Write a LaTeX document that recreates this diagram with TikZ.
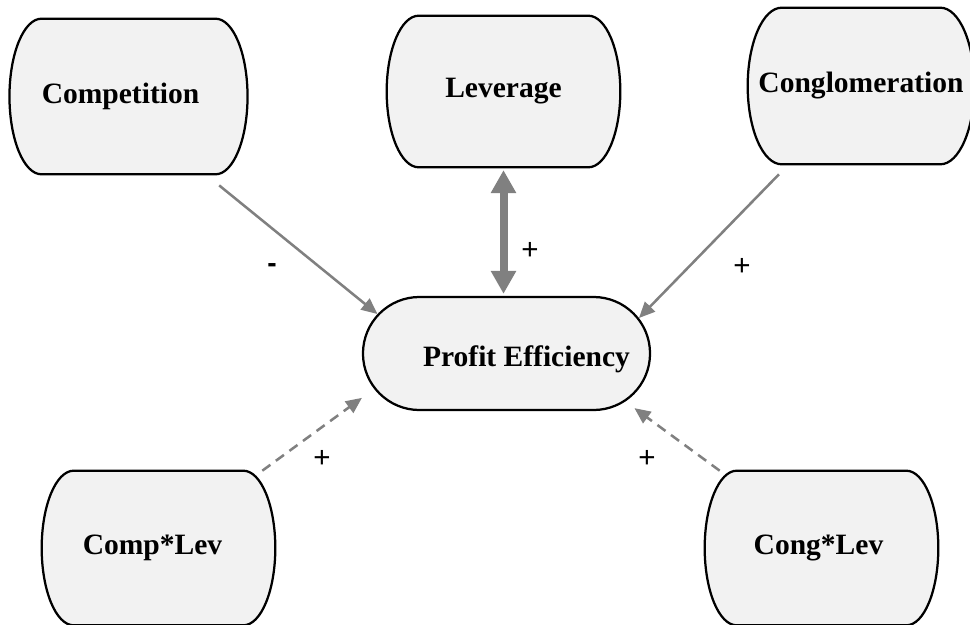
\documentclass[tikz,border=0pt]{standalone}
\usepackage{fontspec}
\setmainfont{Liberation Serif}
\newfontfamily\signfont{Liberation Sans}
\usetikzlibrary{shapes.misc,arrows.meta,backgrounds,calc}
\definecolor{boxfill}{HTML}{F2F2F2}
\definecolor{linkgray}{HTML}{808080}

\begin{document}
\begin{tikzpicture}[x=0.025cm,y=-0.025cm,
    factor/.style={rectangle,minimum width=4.225cm,minimum height=3.85cm,inner sep=0pt,
        font=\fontsize{21}{25}\selectfont\bfseries},
    outline/.style={draw=black,line width=1.6pt,fill=boxfill},
    link/.style={draw=linkgray,line width=1.8pt,-{Triangle[length=0.4cm,width=0.35cm]}},
    dashlink/.style={link,dash pattern=on 0.25cm off 0.17cm},
    bothway/.style={draw=linkgray,line width=5.7pt,
        {Triangle[length=0.575cm,width=0.6cm]}-{Triangle[length=0.575cm,width=0.6cm]}},
    sign/.style={inner sep=0pt,font=\signfont\fontsize{21}{24}\selectfont}]
            \useasboundingbox (0,0) rectangle (970,624);
            \node[factor,minimum height=3.875cm] (comp) at (128.5,96.5) {Competition\hspace*{0.4cm}};
            \node[factor,minimum height=3.775cm] (lev) at (503.5,91.5) {Leverage};
            \node[factor,minimum width=3.95cm,minimum height=3.9cm] (cong) at (861,86) {\makebox[3.95cm]{Conglomeration}};
            \node[factor,rounded rectangle,draw=black,line width=1.6pt,fill=boxfill,text height=23pt,text depth=4.6pt,
                minimum width=7.175cm,minimum height=2.825cm] (pe) at (506.5,353.5) {\hspace*{1cm}Profit Efficiency};
            \node[factor] (complev) at (158.5,548) {Comp*Lev\hspace*{0.3cm}};
            \node[factor] (conglev) at (821.5,548) {Cong*Lev\hspace*{0.15cm}};
            \begin{scope}[on background layer]
                \foreach \f/\r in {comp/0.8cm,lev/0.8cm,cong/0.85cm,complev/0.8cm,conglev/0.8cm}
                    \draw[outline] let \p1=(\f.north), \p2=(\f.south) in
                        (\f.north west) -- (\f.north east)
                        arc[start angle=90,end angle=-90,x radius=\r,y radius={(\y1-\y2)/2}]
                        -- (\f.south west)
                        arc[start angle=270,end angle=90,x radius=\r,y radius={(\y1-\y2)/2}] -- cycle;
            \end{scope}
            \draw[link,shorten <=0.44cm] ([xshift=-0.25cm]comp.south east) -- (pe.163);
            \draw[link,shorten <=0.35cm] ([xshift=0.175cm]cong.south west) -- (pe.15);
            \draw[bothway,shorten <=0.07cm,shorten >=0.05cm] (lev.south) -- (lev.south |- pe.north);
            \draw[dashlink,shorten >=0.375cm] ([xshift=0.475cm]complev.north east) -- (pe.195);
            \draw[dashlink,shorten >=0.28cm] ([xshift=-0.425cm]conglev.north west) -- (pe.-22);
            \node[sign,font=\signfont\fontsize{20}{24}\selectfont\bfseries] (minus) at (272,268) {-};
            \node[sign] (plev) at (530,251) {+};
            \node[sign] (pcong) at (742,267) {+};
            \node[sign] (pcomplev) at (322,459) {+};
            \node[sign] (pconglev) at (647,459) {+};
\end{tikzpicture}
\end{document}
